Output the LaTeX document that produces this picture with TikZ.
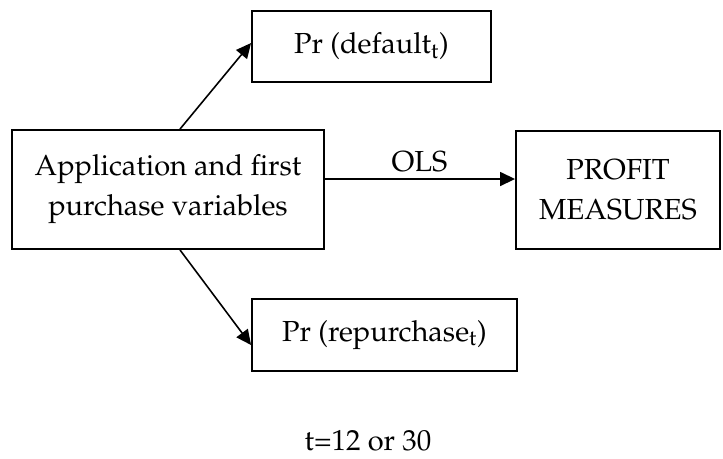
\documentclass[tikz,border=0pt]{standalone}
\usepackage[T1]{fontenc}
\usepackage{mathpazo}
\usetikzlibrary{arrows.meta,positioning}

\begin{document}
\begin{tikzpicture}[x=0.02cm,y=-0.02cm,
  box/.style={draw,line width=1.1pt,align=center,inner sep=0pt,font=\fontsize{16.5}{22.8}\selectfont},
  arr/.style={line width=0.9pt,-{Triangle[length=0.3cm,width=0.28cm]}}]
  \useasboundingbox (0,0) rectangle (723,458); % 図全体の範囲
  \node[box,minimum width=6.24cm,minimum height=2.38cm] (app) at (168,189.5)
    {Application and first\\purchase variables}; % 左の説明変数の箱
  \node[box,minimum width=4.78cm,minimum height=1.42cm] (dflt) at (371.5,46.5)
    {Pr (default\textsubscript{t})}; % 上の箱（デフォルト確率）
  \node[box,minimum width=5.3cm,minimum height=1.44cm] (rep) at (384.5,335)
    {Pr (repurchase\textsubscript{t})}; % 下の箱（再購入確率）
  \node[box,minimum width=4.08cm,minimum height=2.36cm] (prof) at (618,190)
    {PROFIT\\MEASURES}; % 右の箱（利益指標）
  \coordinate (olsstart) at (324,179); % OLS矢印の始点（箱の中心より少し上）
  \draw[arr] ([xshift=0.24cm]app.north) -- ([yshift=0.07cm]dflt.west); % 上向きの矢印
  \draw[arr] ([xshift=0.24cm]app.south) -- ([yshift=-0.2cm]rep.west); % 下向きの矢印
  \draw[arr] (olsstart) -- node[above,font=\fontsize{16.5}{22.8}\selectfont] (ols) {OLS}
    (olsstart -| prof.west); % 利益指標へのOLS矢印
  \node[font=\fontsize{16.5}{22.8}\selectfont,anchor=base,inner sep=0pt] (tval) at (368,450) {t=12 or 30}; % 下の注記
\end{tikzpicture}
\end{document}
